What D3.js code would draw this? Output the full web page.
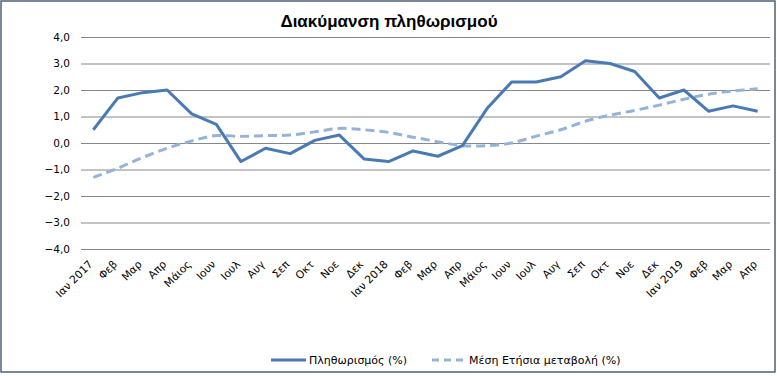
<!DOCTYPE html>
<html>
<head>
<meta charset="utf-8">
<script src="https://cdn.jsdelivr.net/npm/d3@7"></script>
<style>
  body { margin: 0; background: #fff; }
  text { font-family: "DejaVu Sans", Verdana, sans-serif; }
</style>
</head>
<body>
<div id="chart"></div>
<script>
// months on the x axis
var months = ["Ιαν 2017","Φεβ","Μαρ","Απρ","Μάιος","Ιουν","Ιουλ","Αυγ","Σεπ","Οκτ","Νοε","Δεκ",
              "Ιαν 2018","Φεβ","Μαρ","Απρ","Μάιος","Ιουν","Ιουλ","Αυγ","Σεπ","Οκτ","Νοε","Δεκ",
              "Ιαν 2019","Φεβ","Μαρ","Απρ"];

// inflation (%)
var inflation = [0.5, 1.7, 1.9, 2.0, 1.1, 0.7, -0.7, -0.2, -0.4, 0.1, 0.3, -0.6,
                 -0.7, -0.3, -0.5, -0.1, 1.3, 2.3, 2.3, 2.5, 3.1, 3.0, 2.7, 1.7,
                 2.0, 1.2, 1.4, 1.2];

// average annual change (%)
var avgChange = [-1.3, -0.95, -0.55, -0.2, 0.08, 0.28, 0.25, 0.28, 0.3, 0.42, 0.55, 0.5,
                 0.4, 0.22, 0.05, -0.1, -0.1, 0.0, 0.26, 0.5, 0.82, 1.05, 1.23, 1.43,
                 1.65, 1.84, 1.96, 2.05];

var yTicks = [-4, -3, -2, -1, 0, 1, 2, 3, 4];

var seriesNames = ["Πληθωρισμός (%)", "Μέση Ετήσια μεταβολή (%)"];

var width = 777, height = 376;
var margin = {top: 37, right: 7, bottom: 127, left: 81};

var svg = d3.select("#chart").append("svg")
    .attr("width", width)
    .attr("height", height);

// outer border of the chart
svg.append("rect")
    .attr("x", 1).attr("y", 1)
    .attr("width", 774).attr("height", 371)
    .attr("fill", "#fff")
    .attr("stroke", "#4d6278")
    .attr("stroke-width", 1.5);

// title
svg.append("text")
    .attr("x", 389).attr("y", 27)
    .attr("text-anchor", "middle")
    .style("font-family", "'Liberation Sans', Arial, sans-serif")
    .style("font-weight", "bold")
    .style("font-size", "17px")
    .text("Διακύμανση πληθωρισμού");

var x = d3.scaleBand()
    .domain(d3.range(months.length))
    .range([margin.left, width - margin.right]);

var y = d3.scaleLinear()
    .domain([-4, 4])
    .range([height - margin.bottom, margin.top]);

var fmt = function(d) { return d3.format(".1f")(d).replace(".", ","); };

// gridlines and y labels
var yAxis = d3.axisLeft(y)
    .tickValues(yTicks)
    .tickSize(-(width - margin.right - margin.left))
    .tickPadding(11)
    .tickFormat(fmt);

var gy = svg.append("g")
    .attr("transform", "translate(" + margin.left + ",0)")
    .call(yAxis);
gy.select(".domain").remove();
gy.selectAll(".tick line").attr("stroke", "#878787");
gy.selectAll(".tick text")
    .attr("fill", "#000")
    .style("font-size", "10.5px");

// x labels, rotated
svg.append("g").selectAll("text")
    .data(months)
    .enter().append("text")
    .attr("transform", function(d, i) {
      return "translate(" + (x(i) + x.bandwidth() / 2) + "," + 265 + ") rotate(-45)";
    })
    .attr("text-anchor", "end")
    .style("font-size", "10.7px")
    .text(function(d) { return d; });

var cx = function(d, i) { return x(i) + x.bandwidth() / 2; };

// average annual change, smoothed dashed line
var smooth = d3.line()
    .x(cx)
    .y(function(d) { return y(d); })
    .curve(d3.curveCatmullRom.alpha(0.5));

svg.append("path")
    .datum(avgChange)
    .attr("d", smooth)
    .attr("fill", "none")
    .attr("stroke", "#95b3d7")
    .attr("stroke-width", 3)
    .attr("stroke-dasharray", "9,5");

// inflation line
var line = d3.line()
    .x(cx)
    .y(function(d) { return y(d); });

svg.append("path")
    .datum(inflation)
    .attr("d", line)
    .attr("fill", "none")
    .attr("stroke", "#4a7ab4")
    .attr("stroke-width", 3)
    .attr("stroke-linejoin", "round");

// legend
var legend = svg.append("g");
legend.append("line")
    .attr("x1", 271).attr("x2", 306).attr("y1", 360).attr("y2", 360)
    .attr("stroke", "#4a7ab4").attr("stroke-width", 3);
legend.append("text")
    .attr("x", 309).attr("y", 364)
    .style("font-size", "11px")
    .text(seriesNames[0]);
legend.append("line")
    .attr("x1", 432).attr("x2", 463).attr("y1", 360).attr("y2", 360)
    .attr("stroke", "#95b3d7").attr("stroke-width", 3)
    .attr("stroke-dasharray", "7,5");
legend.append("text")
    .attr("x", 469).attr("y", 364)
    .style("font-size", "11px")
    .text(seriesNames[1]);
</script>
</body>
</html>
